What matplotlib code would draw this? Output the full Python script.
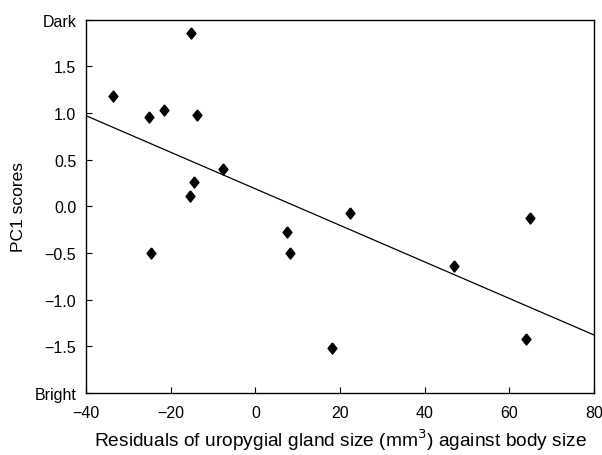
import numpy as np
import matplotlib
matplotlib.use("Agg")
import matplotlib.pyplot as plt

plt.rcParams['font.family'] = ['Liberation Sans', 'DejaVu Sans']

# residuals of uropygial gland size (mm3) vs PC1 scores
resid = [-33.7, -25.2, -21.6, -15.2, -13.8, -14.4, -15.4, -24.6,
         -7.7, 7.5, 8.1, 18.2, 22.3, 46.9, 63.9, 64.9]
pc1 = [1.18, 0.96, 1.03, 1.86, 0.98, 0.26, 0.11, -0.50,
       0.40, -0.28, -0.50, -1.52, -0.07, -0.64, -1.42, -0.12]

# regression line
slope = -0.01958
intercept = 0.188
line_x = [-40, 80]

xticks = [-40, -20, 0, 20, 40, 60, 80]
yticks = [-2.0, -1.5, -1.0, -0.5, 0.0, 0.5, 1.0, 1.5, 2.0]
ytick_labels = ["Bright", "\u22121.5", "\u22121.0", "\u22120.5", "0.0", "0.5", "1.0", "1.5", "Dark"]

# slightly narrow diamond, like the original
diamond = [(0, 1), (0.8, 0), (0, -1), (-0.8, 0), (0, 1)]

fig = plt.figure(figsize=(6.02, 4.56), dpi=100)
ax = fig.add_axes([0.1429, 0.136, 0.9867 - 0.1429, 0.9546 - 0.136])

lx = np.array(line_x)
ax.plot(lx, intercept + slope * lx, color="black", linewidth=0.9)
ax.plot(resid, pc1, linestyle="none", marker=diamond, markersize=8,
        color="black", zorder=3)

ax.set_xlim(-40, 80)
ax.set_ylim(-2, 2)
ax.set_xticks(xticks)
ax.set_xticklabels(["\u221240", "\u221220", "0", "20", "40", "60", "80"])
ax.set_yticks(yticks)
ax.set_yticklabels(ytick_labels)
for lab in ax.get_yticklabels():
    if lab.get_text() in ("Dark", "Bright"):
        lab.set_fontsize(10.5)

ax.tick_params(direction="in", length=4, width=0.8, labelsize=11.5, pad=7)
ax.tick_params(axis="x", pad=9)
for s in ax.spines.values():
    s.set_linewidth(1.0)

ax.set_xlabel("Residuals of uropygial gland size (mm$^3$) against body size",
              fontsize=13.8, labelpad=4)
ax.set_ylabel("PC1 scores", fontsize=12.5, labelpad=6)

fig.savefig("out.png", dpi=100)
